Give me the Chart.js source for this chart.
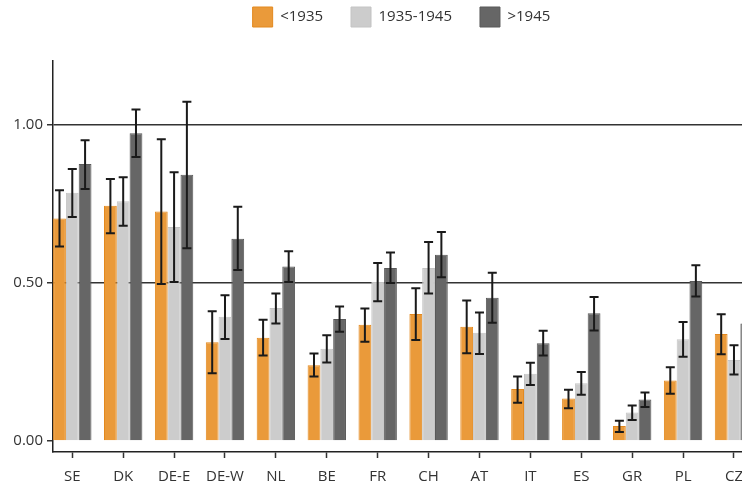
<!DOCTYPE html>
<html><head><meta charset="utf-8">
<script src="https://cdn.jsdelivr.net/npm/chart.js@4"></script>
<style>html,body{margin:0;padding:0;overflow:hidden;background:#fff}#wrap{width:803px;height:484px}</style>
</head><body><div id="wrap"><canvas id="c" width="803" height="484"></canvas></div>
<script>
const categories = ['SE','DK','DE-E','DE-W','NL','BE','FR','CH','AT','IT','ES','GR','PL','CZ'];
const seriesNames = ['<1935','1935-1945','>1945'];

const before1935 = [0.703,0.743,0.725,0.312,0.326,0.239,0.367,0.401,0.361,0.164,0.134,0.047,0.191,0.338];
const before1935Lo = [0.614,0.656,0.496,0.214,0.270,0.204,0.313,0.319,0.277,0.121,0.103,0.028,0.149,0.274];
const before1935Hi = [0.792,0.827,0.953,0.410,0.383,0.276,0.418,0.482,0.444,0.204,0.162,0.064,0.233,0.400];

const between = [0.784,0.757,0.676,0.392,0.420,0.291,0.502,0.546,0.342,0.212,0.182,0.090,0.321,0.256];
const betweenLo = [0.707,0.680,0.502,0.322,0.371,0.248,0.441,0.466,0.275,0.177,0.146,0.066,0.266,0.210];
const betweenHi = [0.859,0.833,0.849,0.460,0.466,0.334,0.562,0.628,0.406,0.247,0.218,0.112,0.376,0.302];

const after1945 = [0.875,0.972,0.841,0.639,0.551,0.385,0.546,0.588,0.452,0.309,0.403,0.131,0.505,0.371];
const after1945Lo = [0.796,0.897,0.609,0.540,0.502,0.345,0.499,0.517,0.373,0.270,0.349,0.107,0.456,0.330];
const after1945Hi = [0.950,1.047,1.071,0.740,0.599,0.425,0.595,0.660,0.531,0.348,0.455,0.153,0.555,0.412];

const yTicks = [0, 0.5, 1.0];

const FONT = "'Open Sans', 'Noto Sans', sans-serif";
const toPts = arr => arr.map((v, i) => ({x: i, y: v}));

const errorBars = {
  id: 'errorBars',
  afterDatasetsDraw(chart) {
    const ctx = chart.ctx, ys = chart.scales.y, a = chart.chartArea;
    ctx.save();
    ctx.beginPath();
    ctx.rect(a.left, a.top - 20, a.right - a.left, a.bottom - a.top + 20);
    ctx.clip();
    ctx.strokeStyle = '#1a1a1a';
    ctx.lineWidth = 2;
    chart.data.datasets.forEach((ds, di) => {
      const meta = chart.getDatasetMeta(di);
      meta.data.forEach((bar, i) => {
        const x = bar.x;
        const yl = ys.getPixelForValue(ds.errLo[i]);
        const yh = ys.getPixelForValue(ds.errHi[i]);
        ctx.beginPath();
        ctx.moveTo(x, yl); ctx.lineTo(x, yh);
        ctx.moveTo(x - 4.5, yl); ctx.lineTo(x + 4.5, yl);
        ctx.moveTo(x - 4.5, yh); ctx.lineTo(x + 4.5, yh);
        ctx.stroke();
      });
    });
    ctx.restore();
  }
};

new Chart(document.getElementById('c'), {
  type: 'bar',
  data: {
    datasets: [
      {label: seriesNames[0], data: toPts(before1935), errLo: before1935Lo, errHi: before1935Hi,
       backgroundColor: '#EA9A3A', borderColor: '#E3891E', borderWidth: 1},
      {label: seriesNames[1], data: toPts(between), errLo: betweenLo, errHi: betweenHi,
       backgroundColor: '#CCCCCC', borderColor: '#C4C4C4', borderWidth: 1},
      {label: seriesNames[2], data: toPts(after1945), errLo: after1945Lo, errHi: after1945Hi,
       backgroundColor: '#666666', borderColor: '#595959', borderWidth: 1}
    ]
  },
  plugins: [errorBars],
  options: {
    responsive: false,
    animation: false,
    events: [],
    layout: {padding: {top: -21, left: 0, right: 0, bottom: 0}},
    datasets: {bar: {categoryPercentage: 0.754, barPercentage: 1.0}},
    plugins: {
      tooltip: {enabled: false},
      legend: {
        position: 'top',
        labels: {font: {family: FONT, size: 15}, color: '#333', boxWidth: 20, boxHeight: 20, padding: 28}
      },
      title: {display: true, text: '', weight: 500, font: {size: 12, lineHeight: 1}, padding: {top: 0, bottom: 12}}
    },
    scales: {
      x: {
        type: 'linear',
        offset: false,
        min: -0.379,
        max: 14.356,
        afterBuildTicks: s => { s.ticks = categories.map((c, i) => ({value: i})); },
        afterFit: s => { s.height = 32; },
        ticks: {
          font: {family: FONT, size: 15}, color: '#333', padding: 10, autoSkip: false, maxRotation: 0,
          callback: v => categories[v]
        },
        grid: {offset: false, drawOnChartArea: false, drawTicks: true, tickLength: 6, tickColor: '#333', tickWidth: 1.5},
        border: {display: true, color: '#222', width: 1.5}
      },
      y: {
        min: -0.0348,
        max: 1.2,
        afterBuildTicks: s => { s.ticks = yTicks.map(v => ({value: v})); },
        afterFit: s => { s.width = 53; },
        ticks: {
          font: {family: FONT, size: 15}, color: '#333', padding: 4,
          callback: v => Number(v).toFixed(2)
        },
        grid: {
          color: c => (c.tick && c.tick.value === 0) ? 'rgba(0,0,0,0)' : '#333',
          lineWidth: 1.5, tickLength: 6, tickColor: '#333', tickWidth: 1.5
        },
        border: {display: true, color: '#222', width: 1.5}
      }
    }
  }
});
</script>
</body></html>
